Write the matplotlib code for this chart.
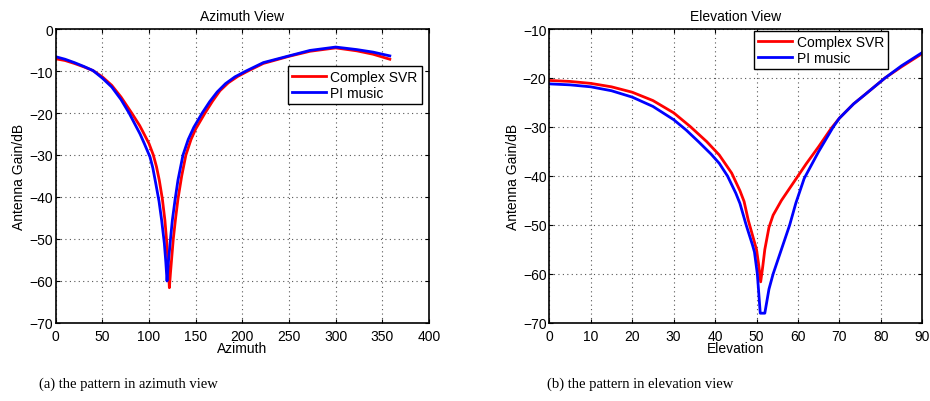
import matplotlib
matplotlib.use("Agg")
import matplotlib.pyplot as plt

plt.rcParams['font.family'] = ['Liberation Sans', 'DejaVu Sans']
plt.rcParams['font.size'] = 10

# Azimuth view data
az_svr = [0, 10, 20, 30, 40, 50, 60, 70, 81.4, 90, 94, 100, 104.6, 108, 111, 114.3,
          117, 118.9, 120.5, 121.8, 123, 124.5, 126, 128.5, 131, 135, 139.5, 145, 150,
          160, 168, 176, 185, 195, 206, 222.5, 250, 272.5, 300, 322.6, 340, 358]
gain_az_svr = [-7.1, -7.5, -8.2, -9.0, -9.9, -11.4, -13.4, -16.2, -20.0, -23.0, -24.7,
               -27.3, -30.0, -32.8, -36.0, -40.5, -45.5, -50.5, -56.0, -61.6, -58.0,
               -54.0, -50.0, -45.0, -40.5, -35.0, -30.0, -26.3, -23.8, -20.0, -17.2,
               -14.7, -12.8, -11.3, -10.0, -8.2, -6.5, -5.3, -4.5, -5.2, -6.0, -7.2]
az_pi = [0, 10, 20, 30, 40, 50, 60, 70, 78.6, 90.4, 95, 101.1, 104, 107, 110.7, 113.5,
         116.4, 118, 119.3, 120.5, 122, 123, 125, 128, 131, 136.4, 142, 148, 157, 165,
         173, 182, 192, 204, 222.5, 250, 272.5, 300, 322.6, 340, 358]
gain_az_pi = [-6.6, -7.2, -8.0, -8.9, -9.9, -11.7, -13.8, -16.8, -20.0, -25.0, -27.3,
              -30.5, -33.0, -36.5, -41.0, -45.5, -51.0, -55.5, -60.0, -56.0, -52.5,
              -50.0, -45.5, -40.5, -36.0, -30.0, -26.3, -23.4, -20.0, -17.3, -15.0,
              -13.0, -11.4, -10.0, -8.0, -6.4, -5.1, -4.3, -4.9, -5.5, -6.4]

# Elevation view data
el_svr = [0, 5, 10, 15, 20, 25, 30, 34, 38, 41, 44, 46, 47, 48, 49, 50, 50.5, 51,
          51.5, 52, 53, 54, 55, 56, 58, 60, 62, 65, 68, 70, 73.4, 76, 81, 85, 90]
gain_el_svr = [-20.5, -20.7, -21.1, -21.8, -22.9, -24.6, -27.1, -29.9, -33.0, -35.7,
               -39.4, -43.0, -45.2, -49.0, -52.0, -55.0, -58.0, -61.6, -58.5, -55.0,
               -50.5, -48.0, -46.5, -45.0, -42.5, -40.0, -37.5, -34.0, -30.3, -28.2,
               -25.3, -23.5, -20.0, -17.7, -15.0]
el_pi = [0, 5, 10, 15, 20, 25, 30, 33, 36, 39, 41, 43, 45, 46, 47.5, 49, 49.5, 50.2,
         50.9, 52, 53, 54, 56, 58, 59.5, 61.5, 65, 68.5, 70, 73.4, 76, 81, 85, 90]
gain_el_pi = [-21.2, -21.4, -21.8, -22.6, -23.9, -25.8, -28.5, -30.6, -33.0, -35.5,
              -37.4, -40.0, -43.5, -45.6, -50.0, -54.0, -55.5, -60.0, -68.0, -68.0,
              -63.1, -60.0, -55.0, -50.0, -45.5, -40.5, -35.0, -30.0, -28.2, -25.3,
              -23.5, -20.0, -17.5, -14.8]

labels = ['Complex SVR', 'PI music']
captions = ['(a) the pattern in azimuth view', '(b) the pattern in elevation view']

W, H = 930, 402
fig = plt.figure(figsize=(W / 100, H / 100), dpi=100)

def add_ax(l, t, r, b):
    return fig.add_axes([l / W, 1 - b / H, (r - l) / W, (b - t) / H])

ax1 = add_ax(55.7, 30, 429, 324)
ax2 = add_ax(549.3, 30, 922.3, 324)

def style(ax):
    for s in ax.spines.values():
        s.set_linewidth(1.2)
    ax.tick_params(direction='in', length=3, width=0.8, labelsize=10,
                   top=True, right=True)
    ax.tick_params(axis='y', pad=2)
    ax.tick_params(axis='x', pad=4)
    ax.grid(True, linestyle=(0, (1, 3)), color='#555555', linewidth=0.8)
    ax.set_axisbelow(True)

lw = 2.0
legkw = dict(loc='upper right', fontsize=10, handlelength=2.45, fancybox=False,
             framealpha=1, edgecolor='black', borderaxespad=0, handletextpad=0.3,
             borderpad=0.3, labelspacing=0.15)

ax1.plot(az_svr, gain_az_svr, color='#ff0000', lw=lw, label=labels[0])
ax1.plot(az_pi, gain_az_pi, color='#0000ff', lw=lw, label=labels[1])
ax1.set_xlim(0, 400)
ax1.set_ylim(-70, 0)
ax1.set_xticks(range(0, 401, 50))
ax1.set_yticks(range(-70, 1, 10))
ax1.set_title('Azimuth View', fontsize=10, pad=6.5)
ax1.set_xlabel('Azimuth', fontsize=10, labelpad=-1)
ax1.set_ylabel('Antenna Gain/dB', fontsize=10, labelpad=2)
style(ax1)
leg1 = ax1.legend(bbox_to_anchor=(0.981, 0.874), **legkw)
leg1.get_frame().set_linewidth(1.0)

ax2.plot(el_svr, gain_el_svr, color='#ff0000', lw=lw, label=labels[0])
ax2.plot(el_pi, gain_el_pi, color='#0000ff', lw=lw, label=labels[1])
ax2.set_xlim(0, 90)
ax2.set_ylim(-70, -10)
ax2.set_xticks(range(0, 91, 10))
ax2.set_yticks(range(-70, -9, 10))
ax2.set_title('Elevation View', fontsize=10, pad=6.5)
ax2.set_xlabel('Elevation', fontsize=10, labelpad=-1)
ax2.set_ylabel('Antenna Gain/dB', fontsize=10, labelpad=2)
style(ax2)
leg2 = ax2.legend(bbox_to_anchor=(0.908, 0.993), **legkw)
leg2.get_frame().set_linewidth(1.0)

fig.text(128.5 / W, 1 - 384 / H, captions[0], ha='center', va='center',
         family=['Liberation Serif', 'DejaVu Serif'], fontsize=10.5)
fig.text(640 / W, 1 - 384 / H, captions[1], ha='center', va='center',
         family=['Liberation Serif', 'DejaVu Serif'], fontsize=10.5)

fig.savefig('out.png', dpi=100)
